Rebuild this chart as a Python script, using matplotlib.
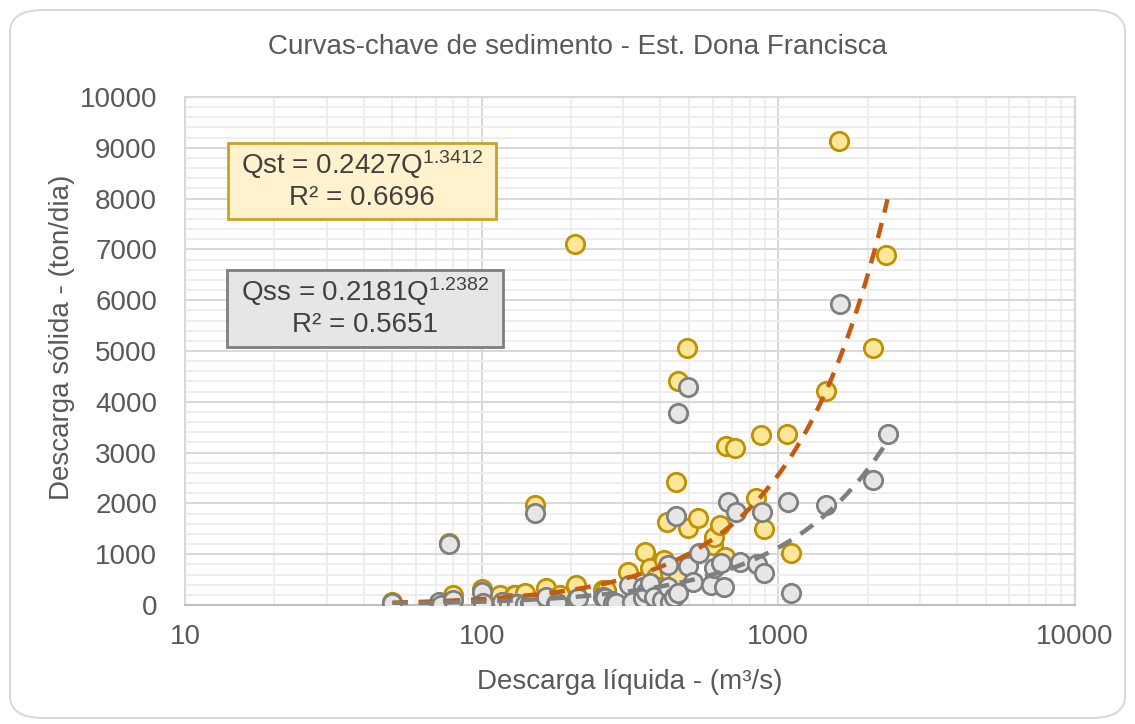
import numpy as np
import matplotlib
matplotlib.use("Agg")
import matplotlib.pyplot as plt
from matplotlib.patches import Rectangle, FancyBboxPatch
from matplotlib.ticker import FixedLocator, NullFormatter

plt.rcParams['font.family'] = ['Liberation Sans', 'DejaVu Sans']
plt.rcParams['mathtext.fontset'] = 'custom'
plt.rcParams['mathtext.rm'] = 'Liberation Sans'
plt.rcParams['mathtext.it'] = 'Liberation Sans'

# dados lidos do grafico
# descarga solida total (amarelo)
q_st = [50, 77.6, 80, 100, 115, 129, 130, 140, 151, 165, 183, 207, 208, 256, 263,
        312, 330, 354, 368, 387, 395, 413, 422, 430, 451, 458, 460, 493, 495, 538,
        604, 609, 638, 661, 667, 714, 841, 875, 897, 1069, 1103, 1447, 1603, 2078, 2305]
qst = [60, 1230, 197, 309, 197, 197, 197, 230, 1969, 328, 197, 7100, 394, 295, 295,
       656, 300, 1050, 722, 558, 350, 886, 1640, 624, 2415, 558, 4409, 5065, 1510, 1706,
       1181, 1345, 1575, 951, 3136, 3084, 2100, 3346, 1490, 3366, 1030, 4213, 9130, 5065, 6890]

# descarga solida em suspensao (cinza)
q_ss = [50, 72, 73, 77.6, 80, 100, 101, 117, 124, 132, 132, 140, 145, 147, 151, 165,
        178, 180, 208, 211, 256, 260, 277, 284, 315, 320, 350, 350, 358, 368, 380, 405,
        424, 424, 430, 445, 451, 458, 460, 495, 495, 514, 542, 593, 609, 640, 658, 675,
        720, 740, 845, 881, 897, 1074, 1103, 1447, 1615, 2078, 2334]
qss = [45, 65, 5, 1210, 98, 262, 33, 65, 45, 10, 20, 15, 33, 33, 1805, 164,
       20, 30, 98, 132, 164, 132, 33, 33, 394, 65, 361, 132, 262, 427, 164, 98,
       787, 361, 60, 150, 1752, 230, 3773, 4297, 768, 459, 1017, 394, 722, 820, 361, 2034,
       1837, 853, 807, 1837, 624, 2021, 243, 1969, 5925, 2461, 3366]

# curvas ajustadas (potencia)
a_st, b_st = 0.2427, 1.3412
a_ss, b_ss = 0.2181, 1.2382
q_min, q_max = 50, 2334

W, H = 1135, 724
fig = plt.figure(figsize=(W / 100, H / 100), dpi=100)


def px(x, y):
    return x / W, 1 - y / H


# moldura externa
fig.patches.append(FancyBboxPatch(px(10, 718), (1115) / W, (708) / H,
                                  boxstyle="round,pad=0,rounding_size=0.03",
                                  transform=fig.transFigure, facecolor='none',
                                  edgecolor='#D9D9D9', linewidth=1.5, zorder=0))

ax = fig.add_axes([185 / W, 1 - 605 / H, (1075 - 185) / W, (605 - 97) / H])
ax.set_facecolor('none')

ax.scatter(q_st, qst, s=175, facecolor='#FFE699', edgecolor='#BF9000', linewidth=2, zorder=3)
ax.scatter(q_ss, qss, s=175, facecolor='#E7E6E6', edgecolor='#7F7F7F', linewidth=2, zorder=4)

qq = np.geomspace(q_min, q_max, 200)
ax.plot(qq, a_st * qq ** b_st, color='#C55A11', lw=3.2, dashes=(3.5, 2.4), zorder=5)
ax.plot(qq, a_ss * qq ** b_ss, color='#7F7F7F', lw=3.2, dashes=(3.5, 2.4), zorder=6)

ax.set_xscale('log')
ax.set_xlim(10, 10000)
ax.set_ylim(0, 10000)
ax.set_xticks([10, 100, 1000, 10000])
ax.set_xticklabels(['10', '100', '1000', '10000'])
ax.xaxis.set_minor_locator(FixedLocator([m * 10 ** d for d in range(1, 4) for m in range(2, 10)]))
ax.xaxis.set_minor_formatter(NullFormatter())
ax.set_yticks(range(0, 10001, 1000))
ax.yaxis.set_minor_locator(FixedLocator(range(0, 10001, 200)))

ax.grid(which='major', color='#D9D9D9', lw=1.5, zorder=0)
ax.grid(which='minor', color='#EDEDED', lw=1.3, zorder=0)
ax.set_axisbelow(True)
ax.tick_params(which='both', length=0, labelsize=20, labelcolor='#595959')
ax.tick_params(axis='y', pad=20)
ax.tick_params(axis='x', pad=14)
for s in ax.spines.values():
    s.set_color('#D9D9D9')
    s.set_linewidth(1.5)
ax.spines['bottom'].set_color('#BFBFBF')

fig.text(*px(577, 47), 'Curvas-chave de sedimento - Est. Dona Francisca',
         ha='center', va='center', fontsize=20, color='#595959')
fig.text(*px(630, 682), 'Descarga líquida - (m³/s)', ha='center', va='center',
         fontsize=20, color='#595959')
fig.text(*px(62, 337), 'Descarga sólida - (ton/dia)', ha='center', va='center',
         rotation=90, fontsize=20, color='#595959')

# caixas das equacoes
caixas = [
    ((228, 143, 496, 219), '#FFF2CC', '#C9A227',
     r'Qst = 0.2427Q$^{1.3412}$', 'R² = 0.6696'),
    ((227, 270, 503, 347), '#E7E6E6', '#7F7F7F',
     r'Qss = 0.2181Q$^{1.2382}$', 'R² = 0.5651'),
]
for (x0, y0, x1, y1), fc, ec, l1, l2 in caixas:
    fig.patches.append(Rectangle(px(x0, y1), (x1 - x0) / W, (y1 - y0) / H,
                                 transform=fig.transFigure, facecolor=fc,
                                 edgecolor=ec, linewidth=2, zorder=10))
    xc = (x0 + x1) / 2
    fig.text(*px(xc, y0 + 22), l1, ha='center', va='center', fontsize=20,
             color='#404040', zorder=11)
    fig.text(*px(xc, y0 + 55), l2, ha='center', va='center', fontsize=20,
             color='#404040', zorder=11)

fig.savefig('out.png', dpi=100)
